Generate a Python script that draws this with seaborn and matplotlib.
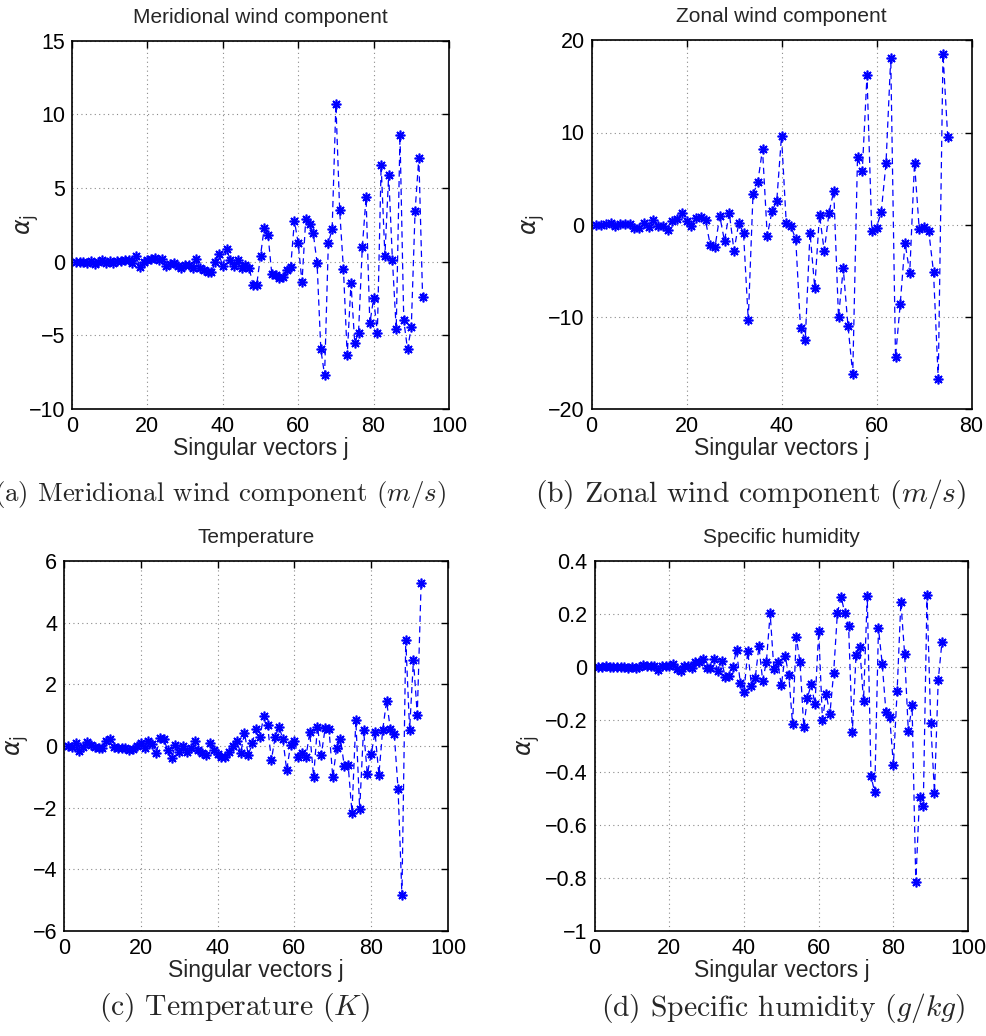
import numpy as np
import pandas as pd
import matplotlib
matplotlib.use("Agg")
import matplotlib.pyplot as plt
import seaborn as sns

# Expansion coefficients alpha_j per singular vector
meridional = [
    0.00, -0.02, -0.05, -0.11, 0.02, -0.18, 0.00, 0.09, -0.09, 0.07,
    -0.07, 0.05, 0.07, 0.14, 0.11, -0.09, 0.38, -0.36, -0.02, 0.09,
    0.20, 0.27, 0.09, 0.16, -0.27, -0.18, -0.09, -0.32, -0.45, -0.23,
    -0.25, -0.45, 0.18, -0.43, -0.54, -0.70, -0.72, -0.02, 0.50, -0.32,
    0.86, 0.11, -0.32, 0.09, -0.45, -0.21, -0.43, -1.56, -1.56, 0.40,
    2.31, 1.81, -0.84, -0.90, -1.11, -1.04, -0.54, -0.36, 2.78, 1.24,
    -1.40, 2.87, 2.53, 1.92, -0.07, -5.95, -7.69, 1.29, 2.19, 10.70,
    3.48, -0.50, -6.36, -1.45, -5.52, -4.82, 0.97, 4.37, -4.19, -2.49,
    -4.82, 6.54, 0.41, 5.88, 0.09, -4.59, 8.60, -3.98, -5.95, -4.43,
    3.42, 7.06, -2.42,
]

zonal = [
    0.00, -0.04, 0.04, 0.22, -0.18, 0.07, 0.07, 0.11, -0.40, -0.36,
    0.14, -0.22, 0.54, -0.14, -0.11, -0.58, 0.36, 0.58, 1.30, 0.43,
    -0.11, 0.69, 0.80, 0.47, -2.21, -2.42, 0.94, -1.77, 1.30, -2.82,
    0.18, -0.87, -10.34, 3.29, 4.59, 8.17, -1.19, 1.48, 2.57, 9.62,
    0.18, -0.18, -1.59, -11.17, -12.51, -0.87, -6.83, 1.08, -2.86, 1.30,
    3.65, -10.05, -4.74, -10.99, -16.20, 7.34, 5.78, 16.20, -0.65, -0.33,
    1.41, 6.65, 18.10, -14.39, -8.57, -1.95, -5.21, 6.69, -0.51, -0.22,
    -0.69, -5.13, -16.74, 18.50, 9.47,
]

temperature = [
    0.00, -0.03, 0.09, -0.15, -0.02, 0.14, 0.04, -0.04, -0.06, -0.05,
    0.17, 0.22, -0.03, -0.05, -0.05, -0.06, -0.14, -0.11, 0.00, 0.09,
    -0.08, 0.17, 0.08, -0.23, 0.25, 0.23, -0.14, -0.40, 0.03, -0.21,
    -0.01, -0.18, -0.08, 0.17, -0.14, -0.22, -0.29, 0.11, -0.12, -0.27,
    -0.36, -0.37, -0.18, 0.01, 0.17, -0.24, 0.43, -0.30, 0.09, 0.55,
    0.28, 0.96, 0.69, -0.46, 0.30, 0.63, 0.22, -0.79, 0.04, 0.16,
    -0.35, -0.23, -0.35, 0.44, -1.01, 0.63, -0.29, 0.57, 0.56, -1.02,
    -0.05, 0.22, -0.65, -0.63, -2.16, 0.84, -2.06, 0.53, -0.91, -0.26,
    0.44, -0.93, 0.53, 1.46, 0.54, 0.40, -1.41, -4.84, 3.44, 0.53,
    2.79, 1.02, 5.29,
]

humidity = [
    -0.003, -0.001, 0.003, 0.000, -0.001, 0.000, -0.003, -0.001, -0.004, -0.003,
    -0.006, -0.001, 0.006, 0.004, 0.003, 0.001, -0.013, 0.001, 0.003, 0.003,
    0.011, -0.010, -0.016, 0.001, 0.004, -0.004, 0.016, 0.018, 0.028, -0.004,
    -0.006, 0.029, -0.016, 0.020, -0.038, -0.035, -0.001, 0.063, -0.061, -0.095,
    0.059, -0.072, -0.043, 0.077, -0.053, 0.019, 0.202, -0.009, 0.018, -0.071,
    0.042, -0.033, -0.218, 0.114, 0.016, -0.229, -0.117, -0.066, -0.143, 0.135,
    -0.200, -0.104, -0.179, -0.023, 0.202, 0.265, 0.202, 0.154, -0.249, 0.044,
    0.073, -0.130, 0.268, -0.414, -0.476, 0.146, 0.011, -0.170, -0.189, -0.372,
    -0.092, 0.246, 0.049, -0.245, -0.146, -0.817, -0.492, -0.528, 0.272, -0.215,
    -0.477, -0.051, 0.093,
]

titles = ["Meridional wind component", "Zonal wind component",
          "Temperature", "Specific humidity"]
captions = [r"(a) Meridional wind component $(m/s)$",
            r"(b) Zonal wind component $(m/s)$",
            r"(c) Temperature $(K)$",
            r"(d) Specific humidity $(g/kg)$"]
xlabel = "Singular vectors j"
ylabel = r"$\alpha_{\rm j}$"

x_ticks = [[0, 20, 40, 60, 80, 100], [0, 20, 40, 60, 80],
           [0, 20, 40, 60, 80, 100], [0, 20, 40, 60, 80, 100]]
y_ticks = [[-10, -5, 0, 5, 10, 15], [-20, -10, 0, 10, 20],
           [-6, -4, -2, 0, 2, 4, 6], [-1, -0.8, -0.6, -0.4, -0.2, 0, 0.2, 0.4]]

sns.set_theme(style="white")
sans = ["Liberation Sans Narrow", "Liberation Sans", "DejaVu Sans"]
plt.rcParams["font.family"] = sans
plt.rcParams["axes.unicode_minus"] = True

fig = plt.figure(figsize=(9.86, 10.36), dpi=100)
W, H = 986.0, 1036.0

# axes boxes in pixels: left, top, right, bottom
boxes = [(72, 40.6, 449, 409.1), (591.5, 40.3, 971.5, 409.1),
         (64, 561.2, 448, 930.8), (594.6, 561.1, 968.1, 930.7)]
# right edge of the rotated y-label, in pixels
ylab_x = [41, 547, 31, 542]
# caption anchors in pixels: x, y(center), alignment, size
cap_pos = [(-6, 494, "left", 19.4), (966, 494, "right", 21.3),
           (234.5, 1008, "center", 21.3), (965, 1008, "right", 21.3)]

series = [meridional, zonal, temperature, humidity]
blue = "#0000ff"

for k, vals in enumerate(series):
    l, t, r, b = boxes[k]
    ax = fig.add_axes([l / W, 1 - b / H, (r - l) / W, (b - t) / H])
    df = pd.DataFrame({"j": np.arange(1, len(vals) + 1), "alpha": vals})
    sns.lineplot(data=df, x="j", y="alpha", ax=ax, color=blue,
                 linestyle=(0, (5, 3.5)), linewidth=0.9,
                 marker=(8, 2, 0), markersize=7, markeredgewidth=1.2,
                 markeredgecolor=blue, markerfacecolor=blue)
    ax.set_xlim(x_ticks[k][0], x_ticks[k][-1])
    ax.set_ylim(y_ticks[k][0], y_ticks[k][-1])
    ax.set_xticks(x_ticks[k])
    ax.set_yticks(y_ticks[k])
    ax.set_xticklabels([f"{v:g}" for v in x_ticks[k]])
    ax.set_yticklabels([f"{v:g}".replace("-", "\u2212") for v in y_ticks[k]])
    ax.grid(True, linestyle=(0, (1, 3)), color="#8a8a8a", linewidth=0.8)
    ax.tick_params(direction="in", length=5, width=1.0, top=True, right=True,
                   labelsize=15.5, colors="black", pad=5)
    for s in ax.spines.values():
        s.set_color("black")
        s.set_linewidth(1.2)
    ax.set_title(titles[k], fontsize=15, pad=13)
    ax.set_xlabel(xlabel, fontsize=16.5, labelpad=0)
    ax.set_ylabel(ylabel, fontsize=17, math_fontfamily="dejavusans")
    ax.yaxis.set_label_coords((ylab_x[k] - l) / (r - l), 0.5)

    cx, cy, ha, fs = cap_pos[k]
    fig.text(cx / W, 1 - cy / H, captions[k], ha=ha, va="center",
             fontsize=fs, family="cmr10", math_fontfamily="cm")

fig.savefig("out.png", dpi=100)
